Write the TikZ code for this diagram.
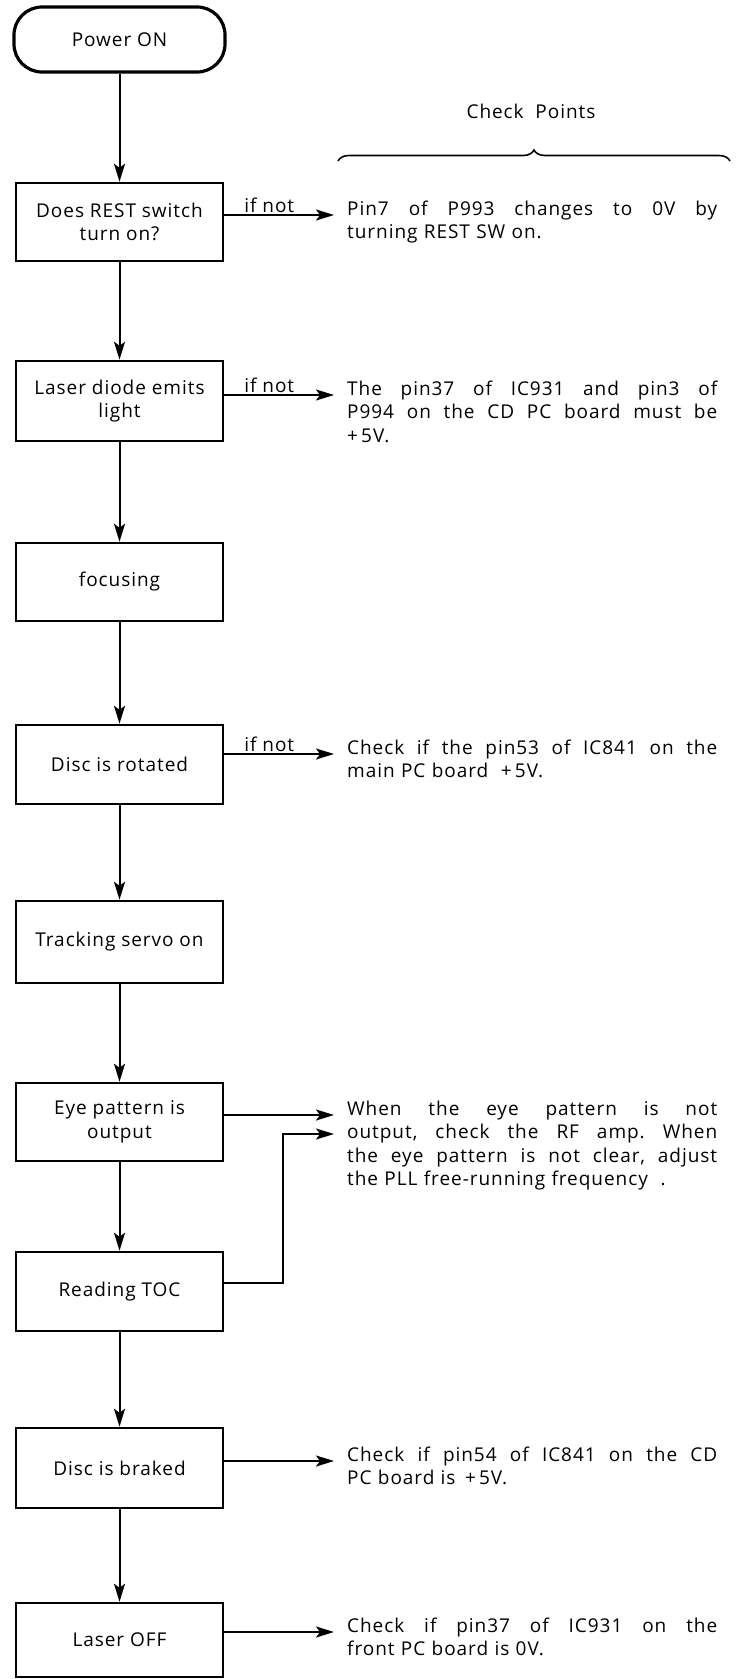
\documentclass[tikz,border=0pt]{standalone}
\usepackage{fontspec}
\setmainfont[LetterSpace=5]{Open Sans}
\usetikzlibrary{arrows.meta,decorations.pathreplacing}
\newcommand{\jline}[1]{\makebox[370pt][l]{#1}}
\newcommand{\jf}{\hfill\ }
\begin{document}
\begin{tikzpicture}[x=1pt,y=-1pt,
  every node/.style={font=\fontsize{19}{23.5}\selectfont},
  proc/.style={draw, line width=2.5pt, minimum width=207pt, inner sep=0pt, align=center},
  term/.style={draw, line width=3.2pt, rounded corners=28pt, minimum width=211pt, minimum height=65pt, inner sep=0pt},
  note/.style={anchor=base west, inner sep=0pt, text width=372pt, align=left},
  arr/.style={line width=2pt, -{Stealth[length=18pt,width=11pt,inset=4pt]}},
  lbl/.style={above, inner sep=1pt, pos=0.41}]
\useasboundingbox (0,0) rectangle (741,1679);

% flow boxes
\node[term] (t0) at (119.5,39.5) {Power ON};
\node[proc, minimum height=78pt] (b1) at (119.5,222) {Does REST switch\\turn on?};
\node[proc, minimum height=80pt] (b2) at (119.5,401) {Laser diode emits\\light};
\node[proc, minimum height=78pt] (b3) at (119.5,582) {focusing};
\node[proc, minimum height=79pt] (b4) at (119.5,764.5) {Disc is rotated};
\node[proc, minimum height=82pt] (b5) at (119.5,942) {Tracking servo on};
\node[proc, minimum height=78pt] (b6) at (119.5,1122) {Eye pattern is\\output};
\node[proc, minimum height=79pt] (b7) at (119.5,1291.5) {Reading TOC};
\node[proc, minimum height=80pt] (b8) at (119.5,1468) {Disc is braked};
\node[proc, minimum height=74pt] (b9) at (119.5,1640) {Laser OFF};

\draw[arr] (t0) -- (b1);
\draw[arr] (b1) -- (b2);
\draw[arr] (b2) -- (b3);
\draw[arr] (b3) -- (b4);
\draw[arr] (b4) -- (b5);
\draw[arr] (b5) -- (b6);
\draw[arr] (b6) -- (b7);
\draw[arr] (b7) -- (b8);
\draw[arr] (b8) -- (b9);

% check points header
\node (cp) at (531,111) {Check\ \ Points};
\coordinate (bl) at (338,161);
\coordinate (br) at (730,161);
\draw[line width=1.6pt, decorate, decoration={brace, amplitude=11pt}] (bl) -- (br);

% notes
\node[note] (n1) at (347,215) {\jline{Pin7\jf of\jf P993\jf changes\jf to\jf 0V\jf by}\\turning REST SW on.};
\node[note] (n2) at (347,395) {\jline{The\jf pin37\jf of\jf IC931\jf and\jf pin3\jf of}\\\jline{P994\jf on\jf the\jf CD\jf PC\jf board\jf must\jf be}\\+\,5V.};
\node[note] (n4) at (347,754) {\jline{Check\jf if\jf the\jf pin53\jf of\jf IC841\jf on\jf the}\\main PC board \ +\,5V.};
\node[note] (n6) at (347,1115) {\jline{When\jf the\jf eye\jf pattern\jf is\jf not}\\\jline{output,\jf check\jf the\jf RF\jf amp.\jf When}\\\jline{the\jf eye\jf pattern\jf is\jf not\jf clear,\jf adjust}\\the PLL free-running frequency \ .};
\node[note] (n8) at (347,1461) {\jline{Check\jf if\jf pin54\jf of\jf IC841\jf on\jf the\jf CD}\\PC board is \,+\,5V.};
\node[note] (n9) at (347,1632) {\jline{Check\jf if\jf pin37\jf of\jf IC931\jf on\jf the}\\front PC board is 0V.};

% side connectors
\coordinate (a1) at (334,215);
\coordinate (a2) at (334,395);
\coordinate (a4) at (334,754);
\coordinate (a6) at (334,1115);
\coordinate (a7) at (334,1134);
\coordinate (k7) at (283,1283);
\coordinate (a8) at (334,1461);
\coordinate (a9) at (334,1632);

\draw[arr] (b1.east |- a1) -- (a1) node[lbl] {if not};
\draw[arr] (b2.east |- a2) -- (a2) node[lbl] {if not};
\draw[arr] (b4.east |- a4) -- (a4) node[lbl] {if not};
\draw[arr] (b6.east |- a6) -- (a6);
\draw[arr] (b7.east |- k7) -- (k7) -- (k7 |- a7) -- (a7);
\draw[arr] (b8.east |- a8) -- (a8);
\draw[arr] (b9.east |- a9) -- (a9);
\end{tikzpicture}
\end{document}
